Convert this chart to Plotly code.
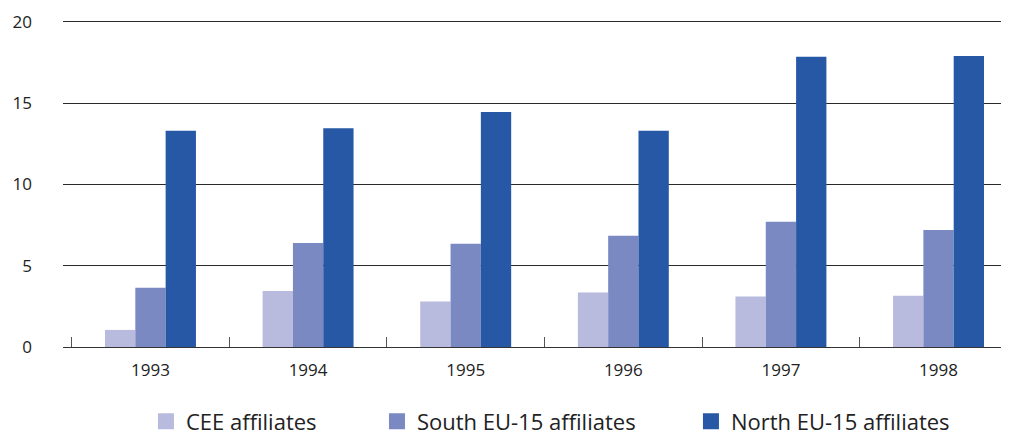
import plotly.graph_objects as go

years = ["1993", "1994", "1995", "1996", "1997", "1998"]
cee = [1.05, 3.45, 2.8, 3.35, 3.1, 3.15]
south = [3.65, 6.4, 6.35, 6.85, 7.7, 7.2]
north = [13.3, 13.45, 14.45, 13.3, 17.85, 17.9]

series = [
    ("CEE affiliates", cee, "#B8BBDD", "legend", 0.0877),
    ("South EU-15 affiliates", south, "#7A89C2", "legend2", 0.3319),
    ("North EU-15 affiliates", north, "#2658A6", "legend3", 0.6638),
]

fig = go.Figure()
for name, vals, col, lg, lx in series:
    fig.add_trace(go.Bar(x=years, y=vals, name=name, marker_color=col,
                         marker_line_width=0, showlegend=False, legendgroup=name))
legend_layout = {}
for name, vals, col, lg, lx in series:
    fig.add_trace(go.Scatter(x=[None], y=[None], mode="markers", name=name,
                             marker=dict(symbol="square", size=16, color=col),
                             legendgroup=name, showlegend=True, legend=lg))
    legend_layout[lg] = dict(orientation="h", x=lx, xanchor="left", y=-0.2259,
                             yanchor="middle", font=dict(size=22, color="#222222"),
                             itemclick=False, bgcolor="rgba(0,0,0,0)", borderwidth=0)

# page body has an 8px margin, so the figure is sized to end at the window edge
fig.update_layout(
    width=1001, height=424,
    margin=dict(l=55, r=0, t=8.8, b=84.7, autoexpand=False),
    plot_bgcolor="white", paper_bgcolor="white",
    barmode="group", bargap=0.423, bargroupgap=0,
    font=dict(family="Open Sans", color="#222222", size=17),
    **legend_layout,
)
fig.update_xaxes(type="category", range=[-0.555, 5.447], showgrid=False,
                 showline=True, linecolor="#333333", linewidth=1,
                 ticks="inside", tickson="boundaries", ticklen=10, tickcolor="#555555",
                 tickfont=dict(size=17), ticklabelstandoff=8, automargin=False)
fig.update_yaxes(range=[0, 20.3], tickvals=[0, 5, 10, 15, 20], showgrid=True,
                 gridcolor="#2a2a2a", gridwidth=1, zeroline=False, showline=False,
                 ticks="", tickfont=dict(size=17), ticklabelstandoff=30, automargin=False)

fig.write_html("out.html")
